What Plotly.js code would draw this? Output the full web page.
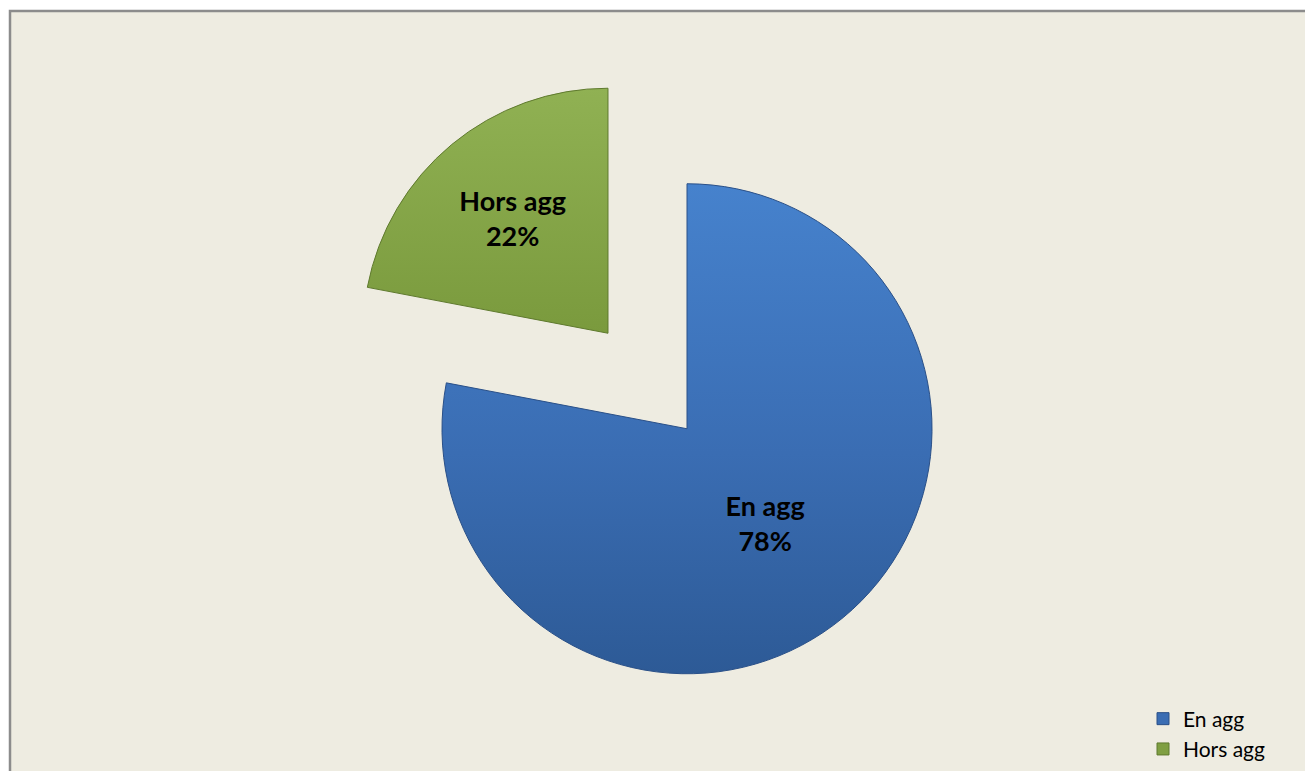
<!DOCTYPE html>
<html>
<head>
<meta charset="utf-8">
<script src="https://cdn.plot.ly/plotly-3.0.1.min.js"></script>
<style>
  html, body { margin: 0; padding: 0; background: #ffffff; }
  #chart { width: 1305px; height: 771px; }
</style>
</head>
<body>
<div id="chart"></div>
<script>
// Data
const categories = ['En agg', 'Hors agg'];
const values = [78, 22];
const sliceColors = ['#3A6DB3', '#7F9F42'];
const lineColors = ['#2A5088', '#5F7A2E'];

const trace = {
  type: 'pie',
  labels: categories,
  values: values,
  sort: false,
  direction: 'clockwise',
  rotation: 0,
  pull: [0.253, 0.253],
  marker: { colors: sliceColors, line: { color: lineColors, width: 1 } },
  textinfo: 'label+percent',
  texttemplate: '<b>%{label}<br>%{percent:.0%}</b>',
  textposition: 'inside',
  insidetextorientation: 'horizontal',
  textfont: { family: 'Lato, "Open Sans", sans-serif', size: 27, color: '#000000' },
  hoverinfo: 'label+percent',
  domain: { x: [340.5 / 1305, 954.5 / 1305], y: [1 - 688 / 771, 1 - 74 / 771] }
};

const layout = {
  width: 1305,
  height: 771,
  margin: { l: 0, r: 0, t: 0, b: 0 },
  paper_bgcolor: '#ffffff',
  plot_bgcolor: 'rgba(0,0,0,0)',
  showlegend: true,
  legend: {
    x: 1143 / 1305, xanchor: 'left',
    y: 1 - 734 / 771, yanchor: 'middle',
    bgcolor: 'rgba(0,0,0,0)',
    font: { family: 'Lato, "Open Sans", sans-serif', size: 21, color: '#000000' },
    itemwidth: 30
  },
  shapes: [{
    type: 'rect', xref: 'paper', yref: 'paper', layer: 'below',
    x0: 10 / 1305, x1: 1.05, y0: -0.05, y1: 1 - 11 / 771,
    fillcolor: '#EEECE1', line: { color: '#8C8C8C', width: 2.5 }
  }]
};

Plotly.newPlot('chart', [trace], layout, { displayModeBar: false, staticPlot: true }).then(function (gd) {
  const svg = gd.querySelector('svg.main-svg');
  const ns = 'http://www.w3.org/2000/svg';
  let defs = svg.querySelector('defs');
  if (!defs) { defs = document.createElementNS(ns, 'defs'); svg.insertBefore(defs, svg.firstChild); }
  const grads = [
    { id: 'gBlue', stops: [['0%', '#4682CD'], ['55%', '#3A6DB3'], ['100%', '#2D5A96']] },
    { id: 'gGreen', stops: [['0%', '#90B153'], ['100%', '#7A9A3D']] }
  ];
  grads.forEach(function (g) {
    const lg = document.createElementNS(ns, 'linearGradient');
    lg.setAttribute('id', g.id);
    lg.setAttribute('x1', '0'); lg.setAttribute('y1', '0');
    lg.setAttribute('x2', '0'); lg.setAttribute('y2', '1');
    g.stops.forEach(function (s) {
      const st = document.createElementNS(ns, 'stop');
      st.setAttribute('offset', s[0]);
      st.setAttribute('stop-color', s[1]);
      lg.appendChild(st);
    });
    defs.appendChild(lg);
  });
  const paths = gd.querySelectorAll('g.slice path.surface');
  if (paths[0]) paths[0].style.fill = 'url(#gBlue)';
  if (paths[1]) paths[1].style.fill = 'url(#gGreen)';
});
</script>
</body>
</html>
